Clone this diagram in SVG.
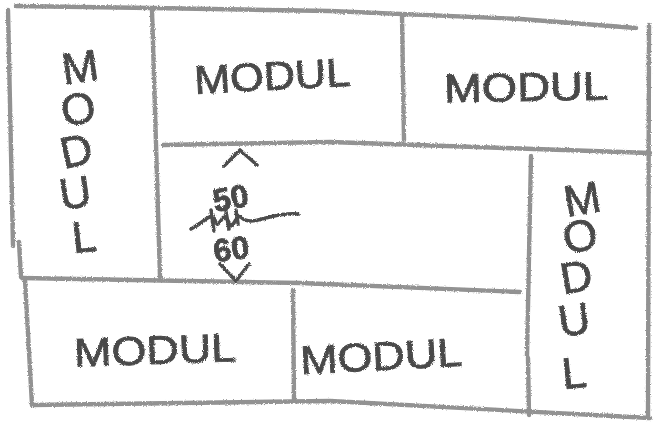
<svg xmlns="http://www.w3.org/2000/svg" width="655" height="422" viewBox="0 0 655 422">
  <defs>
    <!-- grainy pencil texture for strokes and lettering -->
    <filter id="pencil" filterUnits="userSpaceOnUse" x="0" y="0" width="655" height="422">
      <feTurbulence type="fractalNoise" baseFrequency="0.9" numOctaves="2" seed="4" result="noise"/>
      <feDisplacementMap in="SourceGraphic" in2="noise" scale="3" xChannelSelector="R" yChannelSelector="G"/>
    </filter>
    <style>
      .line { fill: none; stroke: #929292; stroke-width: 4.4; stroke-linecap: round; stroke-linejoin: round; }
      .hand { font-family: "Liberation Sans", "DejaVu Sans", sans-serif; fill: #4a4a4a; stroke: #4a4a4a; stroke-width: 0.9; }
      .h { font-size: 40px; }
      .v { font-size: 44px; text-anchor: middle; }
      .dim { font-size: 32px; font-weight: bold; text-anchor: middle; }
      .mark { fill: none; stroke: #4e4e4e; stroke-width: 3.6; stroke-linecap: round; stroke-linejoin: round; }
    </style>
  </defs>

  <rect width="655" height="422" fill="#ffffff"/>

  <!-- sketched frame and partition lines -->
  <g id="connectors" class="line" filter="url(#pencil)">
    <path d="M16,6 L150,8 L330,11 L520,19 L636,28"/>
    <path d="M8,10 L13,246"/>
    <path d="M19,242 L21,277"/>
    <path d="M152,10 L160,277"/>
    <path d="M22,278 L300,283 L520,292"/>
    <path d="M163,145 L330,142 L650,153"/>
    <path d="M402,15 L404,140"/>
    <path d="M649,25 L648,418"/>
    <path d="M531,156 L527,356"/>
    <path d="M528,358 L529,415"/>
    <path d="M25,280 L32,405"/>
    <path d="M293,290 L294,400"/>
    <path d="M32,405 L330,401 L650,418"/>
  </g>

  <g filter="url(#pencil)">
    <!-- tall module, left -->
    <g id="modul-left" class="hand v">
      <text x="80" y="82" transform="rotate(-8 80 66)">M</text>
      <text x="78" y="124" transform="rotate(-10 78 108)">O</text>
      <text x="76" y="166" transform="rotate(-12 76 150)">D</text>
      <text x="75" y="208" transform="rotate(-8 75 192)">U</text>
      <text x="84" y="252" transform="rotate(-6 84 236)">L</text>
    </g>

    <!-- module, top middle -->
    <g id="modul-top-middle" class="hand h">
      <text x="194" y="90" textLength="156" lengthAdjust="spacingAndGlyphs" transform="rotate(-3 270 75)">MODUL</text>
    </g>

    <!-- module, top right -->
    <g id="modul-top-right" class="hand h">
      <text x="444" y="101" textLength="164" lengthAdjust="spacingAndGlyphs" transform="rotate(-1 520 88)">MODUL</text>
    </g>

    <!-- tall module, right -->
    <g id="modul-right" class="hand v">
      <text x="582" y="214" transform="rotate(-10 582 198)">M</text>
      <text x="580" y="251" transform="rotate(-12 580 235)">O</text>
      <text x="576" y="292" transform="rotate(-10 576 276)">D</text>
      <text x="574" y="335" transform="rotate(-8 574 319)">U</text>
      <text x="574" y="388" transform="rotate(-6 574 372)">L</text>
    </g>

    <!-- centre area with 50 to 60 dimension -->
    <g id="centre-dimension">
      <path class="mark" d="M224,166 L240,150 L257,165"/>
      <text class="hand dim" x="230" y="209" transform="rotate(-10 230 195)">50</text>
      <path class="mark" d="M191,229 C205,222 208,214 214,218 C217,224 216,228 222,219 C226,212 228,224 232,226 C236,220 238,214 242,218 C246,222 252,222 262,219 C276,215 288,213 298,214" stroke-width="3.4"/>
      <path class="mark" d="M211,210 L214,231 M225,206 L229,229 M236,210 L238,224" stroke-width="3"/>
      <text class="hand dim" x="231" y="260" transform="rotate(-8 231 248)">60</text>
      <path class="mark" d="M220,264 L236,281 L249,264"/>
    </g>

    <!-- module, bottom left -->
    <g id="modul-bottom-left" class="hand h">
      <text x="74" y="364" textLength="162" lengthAdjust="spacingAndGlyphs" transform="rotate(-2 155 350)">MODUL</text>
    </g>

    <!-- module, bottom middle -->
    <g id="modul-bottom-middle" class="hand h">
      <text x="300" y="370" textLength="162" lengthAdjust="spacingAndGlyphs" transform="rotate(-3 380 355)">MODUL</text>
    </g>
  </g>
</svg>
